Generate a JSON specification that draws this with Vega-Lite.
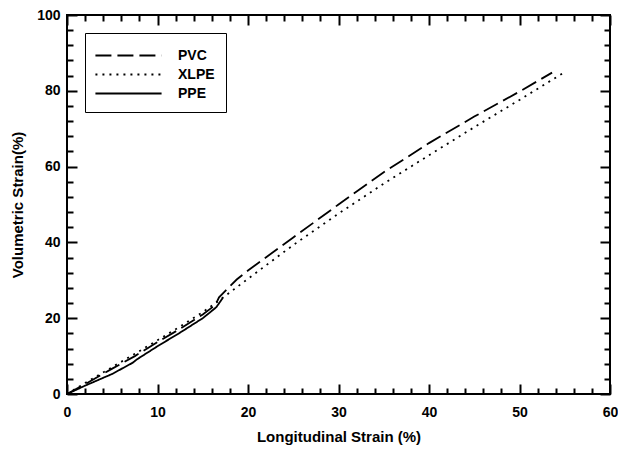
{
  "$schema": "https://vega.github.io/schema/vega-lite/v6.json",
  "width": 543,
  "height": 379,
  "autosize": {"type": "none"},
  "padding": {"left": 67, "top": 15, "right": 8, "bottom": 56},
  "background": "white",
  "config": {
    "font": "Liberation Sans",
    "view": {"stroke": "black", "strokeWidth": 2},
    "axis": {
      "grid": false,
      "domain": false,
      "tickColor": "black",
      "tickWidth": 2,
      "labelFont": "Liberation Sans",
      "labelFontWeight": "bold",
      "labelFontSize": 14,
      "labelColor": "black",
      "titleFont": "Liberation Sans",
      "titleFontWeight": "bold",
      "titleFontSize": 15,
      "titleColor": "black"
    }
  },
  "data": {
    "values": [
      {"series": "PVC", "x": 0, "y": 0},
      {"series": "PVC", "x": 2, "y": 2.6},
      {"series": "PVC", "x": 5, "y": 6.7},
      {"series": "PVC", "x": 7.5, "y": 10},
      {"series": "PVC", "x": 10, "y": 13.7},
      {"series": "PVC", "x": 12.5, "y": 17.2},
      {"series": "PVC", "x": 15, "y": 21},
      {"series": "PVC", "x": 16.4, "y": 23.5},
      {"series": "PVC", "x": 16.8, "y": 25.5},
      {"series": "PVC", "x": 17.5, "y": 27.2},
      {"series": "PVC", "x": 18.75, "y": 30.2},
      {"series": "PVC", "x": 20, "y": 32.6},
      {"series": "PVC", "x": 25, "y": 41.3},
      {"series": "PVC", "x": 30, "y": 50},
      {"series": "PVC", "x": 35, "y": 58.5},
      {"series": "PVC", "x": 40, "y": 66.2},
      {"series": "PVC", "x": 45, "y": 73.2},
      {"series": "PVC", "x": 50, "y": 79.8},
      {"series": "PVC", "x": 53.6, "y": 84.8},
      {"series": "XLPE", "x": 0, "y": 0},
      {"series": "XLPE", "x": 2, "y": 2.9},
      {"series": "XLPE", "x": 5, "y": 7.1},
      {"series": "XLPE", "x": 7.5, "y": 10.6},
      {"series": "XLPE", "x": 10, "y": 14.2},
      {"series": "XLPE", "x": 12.5, "y": 17.8},
      {"series": "XLPE", "x": 15, "y": 21.6},
      {"series": "XLPE", "x": 17, "y": 25},
      {"series": "XLPE", "x": 18, "y": 26.8},
      {"series": "XLPE", "x": 20, "y": 30.4},
      {"series": "XLPE", "x": 25, "y": 39.3},
      {"series": "XLPE", "x": 30, "y": 47.6},
      {"series": "XLPE", "x": 35, "y": 55.5},
      {"series": "XLPE", "x": 40, "y": 63},
      {"series": "XLPE", "x": 45, "y": 70.4},
      {"series": "XLPE", "x": 50, "y": 77.6},
      {"series": "XLPE", "x": 54.7, "y": 84.5},
      {"series": "PPE", "x": 0, "y": 0},
      {"series": "PPE", "x": 2, "y": 2.2},
      {"series": "PPE", "x": 5, "y": 5.3},
      {"series": "PPE", "x": 7.3, "y": 8.3},
      {"series": "PPE", "x": 7.7, "y": 9.1},
      {"series": "PPE", "x": 10, "y": 12.6},
      {"series": "PPE", "x": 12.5, "y": 16.2},
      {"series": "PPE", "x": 15, "y": 20},
      {"series": "PPE", "x": 16.5, "y": 22.9},
      {"series": "PPE", "x": 17.2, "y": 25.3}
    ]
  },
  "layer": [
    {
      "mark": {"type": "line", "color": "black", "strokeWidth": 1.8},
      "encoding": {
        "x": {
          "field": "x", "type": "quantitative",
          "scale": {"domain": [0, 60], "nice": false, "zero": false},
          "axis": {
            "orient": "bottom",
            "title": "Longitudinal Strain (%)",
            "values": [0,2,4,6,8,10,12,14,16,18,20,22,24,26,28,30,32,34,36,38,40,42,44,46,48,50,52,54,56,58,60],
            "labelExpr": "datum.value % 10 === 0 ? datum.label : ''",
            "tickSize": {"condition": {"test": "datum.value % 10 === 0", "value": -10}, "value": -6},
            "labelPadding": 21,
            "titlePadding": 10,
            "labelFlush": false
          }
        },
        "y": {
          "field": "y", "type": "quantitative",
          "scale": {"domain": [0, 100], "nice": false},
          "axis": {
            "orient": "left",
            "title": "Volumetric Strain(%)",
            "values": [0,4,8,12,16,20,24,28,32,36,40,44,48,52,56,60,64,68,72,76,80,84,88,92,96,100],
            "labelExpr": "datum.value % 20 === 0 ? datum.label : ''",
            "tickSize": {"condition": {"test": "datum.value % 20 === 0", "value": -10}, "value": -6},
            "labelPadding": 17,
            "titlePadding": 11,
            "labelFlush": false
          }
        },
        "strokeDash": {
          "field": "series", "type": "nominal",
          "scale": {"domain": ["PVC", "XLPE", "PPE"], "range": [[16, 6], [2, 5], [1, 0]]},
          "legend": {
            "orient": "none",
            "legendX": 18,
            "legendY": 18,
            "title": null,
            "symbolType": "M-3.15,0H3.15",
            "symbolSize": 441,
            "symbolStrokeWidth": 2,
            "symbolStrokeColor": "black",
            "symbolOffset": 21,
            "labelFont": "Liberation Sans",
            "labelFontSize": 14,
            "labelFontWeight": "bold",
            "labelColor": "black",
            "labelOffset": 38,
            "strokeColor": "black",
            "padding": 11,
            "rowPadding": 0
          }
        }
      }
    },
    {
      "mark": {"type": "line", "opacity": 0},
      "encoding": {
        "x": {
          "field": "x", "type": "quantitative",
          "axis": {
            "orient": "top",
            "title": null,
            "labels": false,
            "values": [0,2,4,6,8,10,12,14,16,18,20,22,24,26,28,30,32,34,36,38,40,42,44,46,48,50,52,54,56,58,60],
            "tickSize": {"condition": {"test": "datum.value % 10 === 0", "value": -10}, "value": -6}
          }
        },
        "y": {
          "field": "y", "type": "quantitative",
          "axis": {
            "orient": "right",
            "title": null,
            "labels": false,
            "values": [0,4,8,12,16,20,24,28,32,36,40,44,48,52,56,60,64,68,72,76,80,84,88,92,96,100],
            "tickSize": {"condition": {"test": "datum.value % 20 === 0", "value": -10}, "value": -6}
          }
        },
        "detail": {"field": "series", "type": "nominal"}
      }
    }
  ],
  "resolve": {"axis": {"x": "independent", "y": "independent"}}
}
